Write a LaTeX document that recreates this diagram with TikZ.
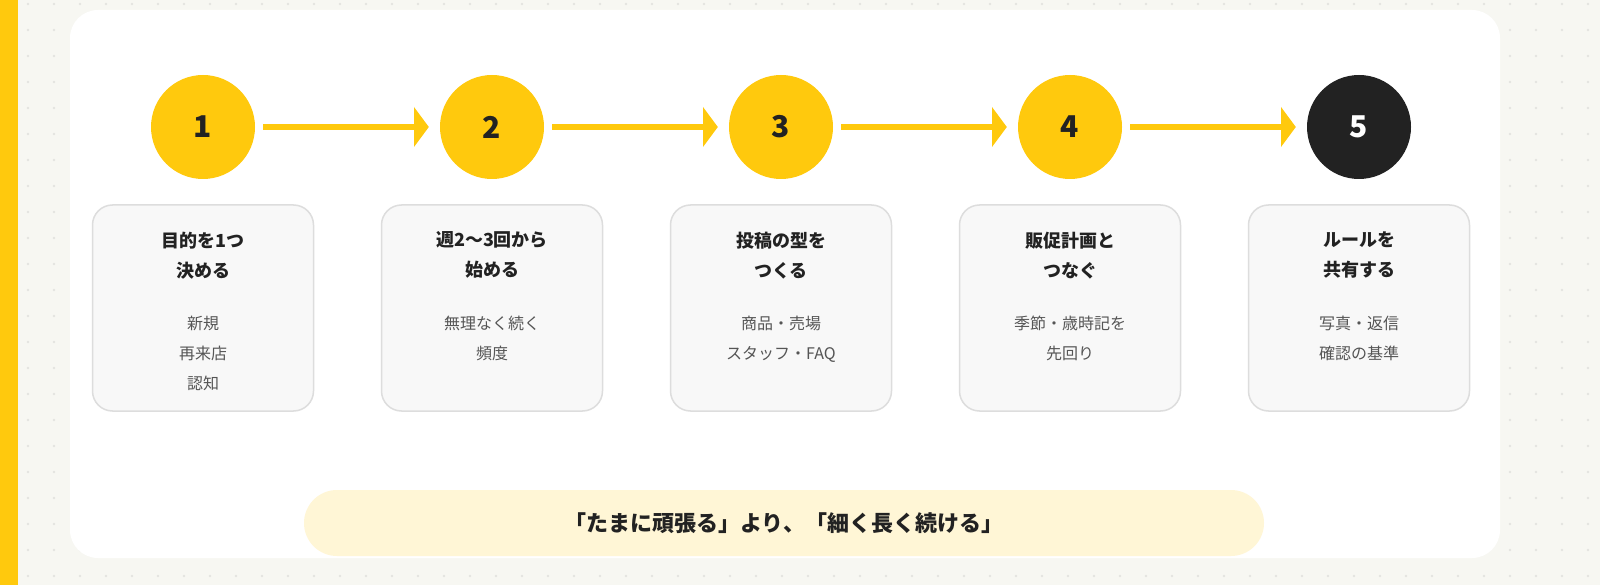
\documentclass[tikz,border=0pt]{standalone}
\usepackage{fontspec}
\setmainfont{Noto Sans CJK JP}
\definecolor{mainyellow}{HTML}{FFC90D}
\definecolor{pagebg}{HTML}{F7F7F2}
\definecolor{dotgray}{HTML}{E4E4E0}
\definecolor{boxfill}{HTML}{F8F8F8}
\definecolor{boxline}{HTML}{DDDDDD}
\definecolor{subgray}{HTML}{555555}
\definecolor{pillfill}{HTML}{FFF6D6}
\definecolor{darkstep}{HTML}{222222}
\tikzset{
  stepnode/.style={circle, minimum size=104pt, inner sep=0pt, fill=mainyellow, text=darkstep, font=\fontsize{30}{30}\selectfont\bfseries},
  card/.style={draw=boxline, line width=1.5pt, fill=boxfill, rounded corners=20pt, minimum width=221pt, minimum height=206pt, inner sep=0pt},
  flow/.style={mainyellow, line width=6pt},
  flowhead/.style={fill=mainyellow}
}
\begin{document}
\begin{tikzpicture}[x=1pt,y=-1pt]
\useasboundingbox (0,0) rectangle (1600,585);
\fill[pagebg] (0,0) rectangle (1600,585);
\foreach \i in {0,...,60}
  \foreach \j in {0,...,22}
    \fill[dotgray] (28+26*\i,4+26*\j) circle (1.3pt);
\fill[mainyellow] (0,0) rectangle (18,585);
\fill[white, rounded corners=28pt] (70,10) rectangle (1500,558);

% steps
\foreach \n/\x in {1/203,2/492,3/781,4/1070}
  \node[stepnode] (s\n) at (\x,127) {\n};
\node[stepnode, fill=darkstep, text=white] (s5) at (1359,127) {5};
\foreach \a/\b in {1/2,2/3,3/4,4/5}{
  \coordinate (e\a) at ([xshift=-78pt]s\b.center);
  \draw[flow] ([xshift=8pt]s\a.east) -- (e\a);
  \fill[flowhead] ([yshift=-20pt]e\a) -- ([xshift=-11pt]s\b.west) -- ([yshift=20pt]e\a) -- cycle;
}

% cards
\foreach \n/\x/\ta/\tb/\sub in {
  1/203/目的を1つ/決める/{新規\\再来店\\認知},
  2/492/週2〜3回から/始める/{無理なく続く\\頻度},
  3/781/投稿の型を/つくる/{商品・売場\\スタッフ・FAQ},
  4/1070/販促計画と/つなぐ/{季節・歳時記を\\先回り},
  5/1359/ルールを/共有する/{写真・返信\\確認の基準}}{
  \node[card] (c\n) at (\x,308) {};
  \node[font=\fontsize{18}{30}\selectfont\bfseries, text=darkstep, align=center, anchor=north] (t\n) at ([yshift=-24pt]c\n.north) {\ta\\\tb};
  \node[font=\fontsize{16}{30}\selectfont, text=subgray, align=center, anchor=north] (u\n) at ([yshift=-108pt]c\n.north) {\sub};
}

% summary
\node[fill=pillfill, rounded corners=33pt, minimum width=960pt, minimum height=66pt, text=darkstep,
  font=\fontsize{22}{22}\selectfont\bfseries] (pill) at (784,523) {「たまに頑張る」より、「細く長く続ける」};
\end{tikzpicture}
\end{document}
